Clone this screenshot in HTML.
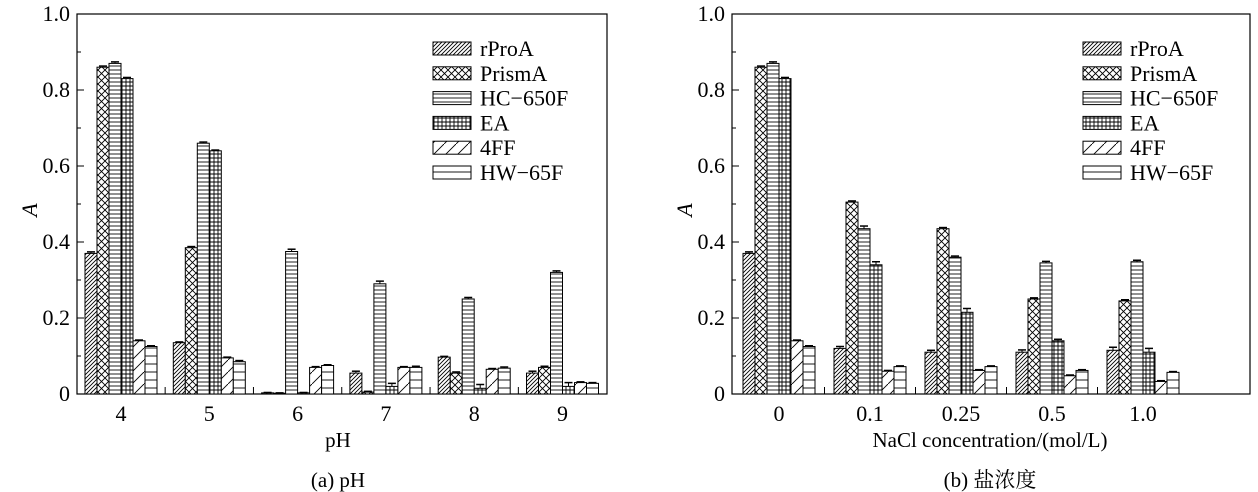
<!DOCTYPE html>
<html><head><meta charset="utf-8"><style>
body{margin:0;background:#fff;}
svg{display:block;font-family:"Liberation Serif","Noto Serif CJK SC",serif;}
</style></head><body>
<svg id="c" width="1258" height="492" viewBox="0 0 1258 492">
<defs>
<pattern id="p0" width="4" height="4" patternUnits="userSpaceOnUse"><rect width="4" height="4" fill="#fff"/><path d="M-1,5 L5,-1 M-1,1 L1,-1 M3,5 L5,3" stroke="#000" stroke-width="0.9"/></pattern>
<pattern id="p1" width="7" height="7" patternUnits="userSpaceOnUse"><rect width="7" height="7" fill="#fff"/><path d="M0,0 L7,7 M7,0 L0,7" stroke="#000" stroke-width="0.9"/></pattern>
<pattern id="p2" width="4" height="4" patternUnits="userSpaceOnUse"><rect width="4" height="4" fill="#fff"/><path d="M0,2 H4" stroke="#222" stroke-width="1"/></pattern>
<pattern id="p3" width="4" height="4" patternUnits="userSpaceOnUse"><rect width="4" height="4" fill="#fff"/><path d="M0,2 H4 M2,0 V4" stroke="#000" stroke-width="0.9"/></pattern>
<pattern id="p4" width="12" height="12" patternUnits="userSpaceOnUse"><rect width="12" height="12" fill="#fff"/><path d="M-1,13 L13,-1" stroke="#000" stroke-width="0.9"/></pattern>
<pattern id="p5" width="8" height="8" patternUnits="userSpaceOnUse"><rect width="8" height="8" fill="#fff"/><path d="M0,4 H8" stroke="#000" stroke-width="0.9"/></pattern>
</defs>
</svg>
<script>
const series=['rProA','PrismA','HC−650F','EA','4FF','HW−65F'];
const catsA=['4','5','6','7','8','9'];
const catsB=['0','0.1','0.25','0.5','1.0'];
const yTicks=['0','0.2','0.4','0.6','0.8','1.0'];
const valsA=[[0.37,0.86,0.87,0.83,0.14,0.125],[0.135,0.385,0.66,0.64,0.095,0.085],[0.003,0.002,0.375,0.003,0.07,0.075],[0.055,0.005,0.29,0.02,0.07,0.07],[0.097,0.055,0.25,0.015,0.065,0.068],[0.055,0.07,0.32,0.02,0.03,0.028]];
const valsB=[[0.37,0.86,0.87,0.83,0.14,0.125],[0.12,0.505,0.435,0.34,0.06,0.072],[0.11,0.435,0.36,0.215,0.062,0.072],[0.11,0.25,0.345,0.14,0.048,0.062],[0.115,0.245,0.348,0.11,0.033,0.057]];
const errA=[[0.004,0.003,0.004,0.003,0.002,0.002],[0.002,0.003,0.003,0.002,0.002,0.003],[0.001,0.001,0.006,0.001,0.002,0.002],[0.005,0.002,0.007,0.008,0.002,0.003],[0.002,0.003,0.004,0.01,0.002,0.003],[0.005,0.003,0.004,0.01,0.002,0.002]];
const errB=[[0.004,0.003,0.004,0.003,0.002,0.002],[0.005,0.003,0.007,0.008,0.002,0.002],[0.005,0.003,0.003,0.01,0.002,0.002],[0.006,0.003,0.004,0.004,0.002,0.002],[0.008,0.003,0.004,0.01,0.002,0.002]];
const svg=document.getElementById('c');const NS='http://www.w3.org/2000/svg';
function mk(t,a,txt){const e=document.createElementNS(NS,t);for(const k in a)e.setAttribute(k,a[k]);if(txt!==undefined)e.textContent=txt;svg.appendChild(e);return e;}
const FS=22;
function panel(p){
 const y=v=>394-v*380;
 const x=i=>p.x0+i*p.step;
 let e=mk('rect',{x:p.L,y:14,width:p.R-p.L,height:380,fill:'none',stroke:'#000','stroke-width':1.2});
 
 for(let k=0;k<=10;k++){const yy=y(k/10);mk('line',{x1:p.L,x2:p.L+(k%2?4:7),y1:yy,y2:yy,stroke:'#000'});}
 yTicks.forEach((t,k)=>{e=mk('text',{x:p.L-7,y:y(k*0.2)+7,'text-anchor':'end','font-size':FS},t);});
 e=mk('text',{x:0,y:0,'font-size':FS,'font-style':'italic',transform:`translate(${p.L-40},${210}) rotate(-90)`,'text-anchor':'middle'},'A');
 
 p.cats.forEach((c,i)=>{
  e=mk('text',{x:x(i),y:421,'text-anchor':'middle','font-size':FS},c);
  if(i>0){const mx=x(i)-p.step/2;mk('line',{x1:mx,x2:mx,y1:394,y2:387,stroke:'#000'});}
  p.vals[i].forEach((v,j)=>{
   const bx=x(i)-36+j*12;
   const b=mk('rect',{x:bx,y:y(v),width:12,height:394-y(v),fill:`url(#p${j})`,stroke:'#000','stroke-width':1});
   
   const er=p.err[i][j];const cx=bx+6;
   mk('line',{x1:cx,x2:cx,y1:y(v+er),y2:y(v),stroke:'#000'});
   mk('line',{x1:cx-4,x2:cx+4,y1:y(v+er),y2:y(v+er),stroke:'#000','stroke-width':1.5});
  });
 });
 series.forEach((s,j)=>{
  const ly=42+j*24.8;
  let r=mk('rect',{x:p.lx,y:ly,width:38,height:13,fill:`url(#p${j})`,stroke:'#000'});
  
  r=mk('text',{x:p.lx+47,y:ly+14,'font-size':FS},s);
  
 });
 e=mk('text',{x:p.cx,y:447,'text-anchor':'middle','font-size':FS-1},p.xt);
 e=mk('text',{x:p.cx,y:487,'text-anchor':'middle','font-size':FS-1},p.cap);
}
panel({id:'ph',L:77,R:607,x0:121,step:88.3,cats:catsA,vals:valsA,err:errA,lx:433,cx:338,xt:'pH',cap:'(a) pH'});
panel({id:'nacl',L:732,R:1250,x0:779,step:91,cats:catsB,vals:valsB,err:errB,lx:1083,cx:990,xt:'NaCl concentration/(mol/L)',cap:'(b) 盐浓度'});
</script>
</body></html>
